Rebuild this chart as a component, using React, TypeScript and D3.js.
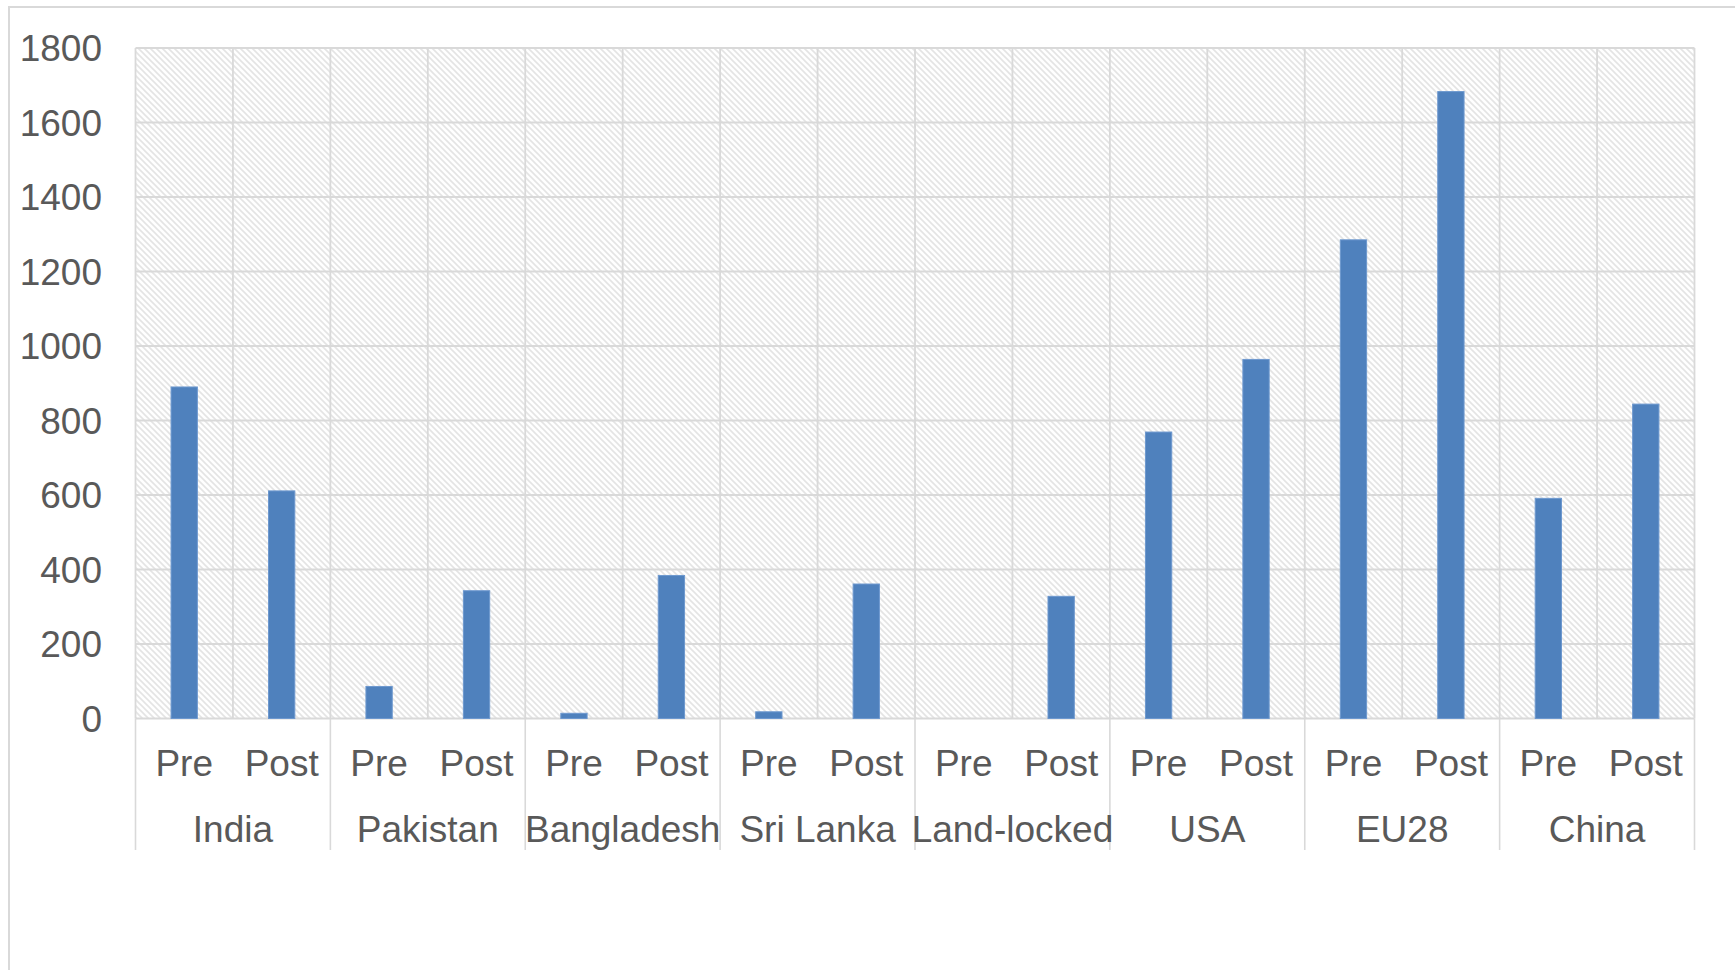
import React from "react";
import * as d3 from "d3";

const countries = ["India", "Pakistan", "Bangladesh", "Sri Lanka", "Land-locked", "USA", "EU28", "China"];
const periods = ["Pre", "Post"];
const preValues = [890, 86, 14, 18, 0, 769, 1285, 591];
const postValues = [611, 343, 384, 361, 328, 964, 1683, 844];
const yTicks = [0, 200, 400, 600, 800, 1000, 1200, 1400, 1600, 1800];

const W = 1735;
const H = 970;
const M = { left: 135.5, right: 1694.5, top: 48, bottom: 718.5 };

export default function App() {
  const slots = countries.flatMap((c) => periods.map((p) => `${c}|${p}`));
  const values = countries.flatMap((c, i) => [preValues[i], postValues[i]]);
  const x = d3.scaleBand<string>().domain(slots).range([M.left, M.right]).paddingInner(0).paddingOuter(0);
  const y = d3.scaleLinear().domain([0, 1800]).range([M.bottom, M.top]);
  const bw = x.bandwidth();
  const barW = bw * 0.27;
  const grid = "#d9d9d9";
  const txt = "#595959";
  const font = "'Liberation Sans', Arial, sans-serif";
  const groupW = bw * 2;

  return (
    <svg width={W} height={H} style={{ position: "absolute", left: 0, top: 0, background: "#fff" }} fontFamily={font}>
      <defs>
        <pattern id="hatch" patternUnits="userSpaceOnUse" width={6} height={6}>
          <rect width={6} height={6} fill="#ffffff" />
          <path d="M0,0 L6,6 M-1,5 L1,7 M5,-1 L7,1" stroke="#e4e4e4" strokeWidth={1.6} />
        </pattern>
      </defs>
      <rect x={9} y={7} width={W + 20} height={H + 20} fill="none" stroke={grid} strokeWidth={2} />
      <rect x={M.left} y={M.top} width={M.right - M.left} height={M.bottom - M.top} fill="url(#hatch)" />
      {yTicks.map((t) => (
        <line key={`h${t}`} x1={M.left} x2={M.right} y1={y(t)} y2={y(t)} stroke={grid} strokeWidth={1.8} />
      ))}
      {slots.map((s) => (
        <line key={`v${s}`} x1={x(s)!} x2={x(s)!} y1={M.top} y2={M.bottom} stroke={grid} strokeWidth={1.8} />
      ))}
      <line x1={M.right} x2={M.right} y1={M.top} y2={M.bottom} stroke={grid} strokeWidth={1.8} />
      {countries.map((c) => {
        const gx = x(`${c}|Pre`)!;
        return (
          <line key={`g${c}`} x1={gx} x2={gx} y1={M.bottom} y2={850} stroke={grid} strokeWidth={1.6} />
        );
      })}
      <line x1={M.right} x2={M.right} y1={M.bottom} y2={850} stroke={grid} strokeWidth={1.6} />
      {slots.map((s, i) => (
        <rect
          key={`b${s}`}
          x={x(s)! + bw / 2 - barW / 2}
          y={y(values[i])}
          width={barW}
          height={M.bottom - y(values[i])}
          fill="#4f81bd"
          stroke="#6d98cf"
          strokeWidth={values[i] > 0 ? 1 : 0}
        />
      ))}
      {yTicks.map((t) => (
        <text key={`yt${t}`} x={102} y={y(t)} dy="0.36em" textAnchor="end" fontSize={37} fill={txt}>
          {t}
        </text>
      ))}
      {slots.map((s) => (
        <text key={`pl${s}`} x={x(s)! + bw / 2} y={776} textAnchor="middle" fontSize={37} fill={txt}>
          {s.split("|")[1]}
        </text>
      ))}
      {countries.map((c) => (
        <text key={`cl${c}`} x={x(`${c}|Pre`)! + groupW / 2} y={842} textAnchor="middle" fontSize={37} fill={txt}>
          {c}
        </text>
      ))}
    </svg>
  );
}
